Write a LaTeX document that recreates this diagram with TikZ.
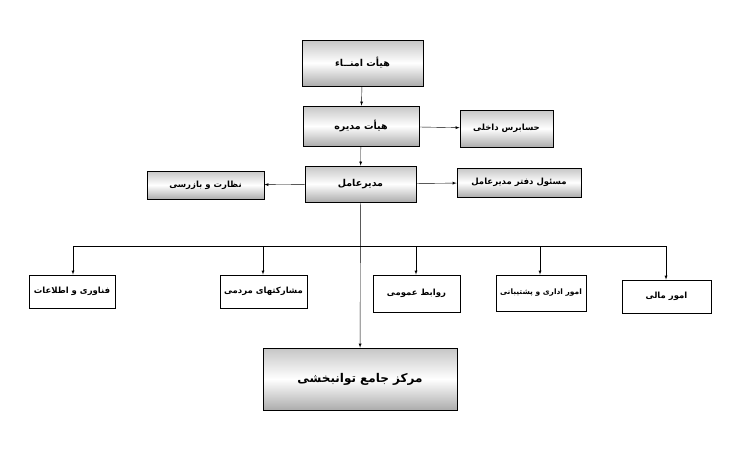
\documentclass[tikz,border=0pt]{standalone}
\usepackage{fontspec}
\TeXXeTstate=1
\newfontfamily\arabicfont[Script=Arabic]{DejaVu Sans}
\begin{document}
\begin{tikzpicture}[x=1pt,y=-1pt,
  gbox/.style={draw,thick,top color=gray!45,bottom color=gray!65,middle color=white,font=\arabicfont\bfseries\fontsize{9.5}{11}\selectfont},
  wbox/.style={draw,thick,fill=white,font=\arabicfont\bfseries\fontsize{8.5}{10}\selectfont},
  arr/.style={-latex}]
\useasboundingbox (0,0) rectangle (740,450);
\newcommand\bx[6]{\node[#1,minimum width=#4-#2,minimum height=#5-#3,inner sep=0pt] (#6) at ({(#2+#4)/2},{(#3+#5)/2})}
\bx{gbox}{302}{40}{423}{86}{a}{\beginR هیأت امنــاء\endR};
\bx{gbox}{303}{106}{419}{146}{b}{\beginR هیأت مدیره\endR};
\bx{gbox}{460}{110}{553}{147}{c}{\fontsize{8.5}{10}\selectfont\beginR حسابرس داخلی\endR};
\bx{gbox}{305}{166}{416}{202}{d}{\beginR مدیرعامل\endR};
\bx{gbox}{457}{168}{581}{197}{e}{\fontsize{8.5}{10}\selectfont\beginR مسئول دفتر مدیرعامل\endR};
\bx{gbox}{147}{171}{264}{199}{f}{\fontsize{8.5}{10}\selectfont\beginR نظارت و بازرسی\endR};
\bx{wbox}{29}{275}{115}{308}{g1}{\beginR فناوری و اطلاعات\endR};
\bx{wbox}{220}{275}{307}{308}{g2}{\beginR مشارکتهای مردمی\endR};
\bx{wbox}{373}{275}{460}{312}{g3}{\beginR روابط عمومی\endR};
\bx{wbox}{496}{275}{586}{311}{g4}{\fontsize{7.5}{9}\selectfont\beginR امور اداری و پشتیبانی\endR};
\bx{wbox}{622}{280}{711}{313}{g5}{\beginR امور مالی\endR};
\node[gbox,minimum width=194,minimum height=62,font=\arabicfont\bfseries\fontsize{12}{14}\selectfont] (h) at (360,379) {\beginR مرکز جامع توانبخشی\endR};
\draw[arr] (a) -- (b);
\draw[arr] (b) -- (d);
\draw[arr] (b) -- (c);
\draw[arr] (d) -- (e);
\draw[arr] (d) -- (f);
\draw[arr] (d) -- (h);
\coordinate (bl) at (73,246);
\coordinate (br) at (666,246);
\draw (bl) -- (br);
\draw[arr] (bl) -- (g1.north -| bl);
\draw[arr] (263,246) -- (g2.north -| 263,0);
\draw[arr] (416,246) -- (g3.north -| 416,0);
\draw[arr] (540,246) -- (g4.north -| 540,0);
\draw[arr] (br) -- (g5.north -| br);
\end{tikzpicture}
\end{document}
